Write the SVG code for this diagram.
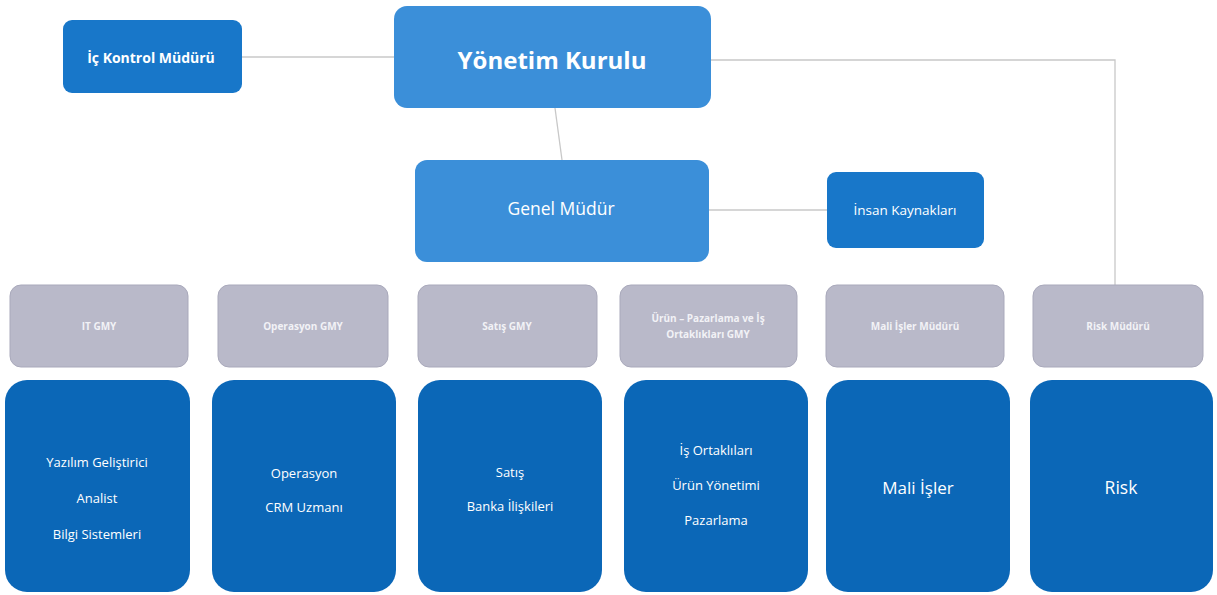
<svg xmlns="http://www.w3.org/2000/svg" width="1217" height="595" viewBox="0 0 1217 595">
<style>
.light{fill:#3b8fd9}
.mid{fill:#1877c9}
.gray{fill:#b9b9c9;stroke:#a9a9bb;stroke-width:1}
.dark{fill:#0b67b7}
text{font-family:"Open Sans","Liberation Sans",sans-serif;fill:#ffffff;text-anchor:middle;dominant-baseline:central}
.g{font-size:10px;font-weight:bold;fill:#f2f2f6}
.b{font-size:13px}
.c{stroke:#c8c8c8;stroke-width:1.3;fill:none}
</style>
<rect width="1217" height="595" fill="#ffffff"/>
<g id="connectors">
<line class="c" x1="242" y1="57" x2="394" y2="57"/>
<polyline class="c" points="711,60 1115,60 1115,285"/>
<line class="c" x1="555" y1="108" x2="562" y2="160"/>
<line class="c" x1="709" y1="210" x2="827" y2="210"/>
</g>
<g id="ic-kontrol"><rect class="mid" x="63" y="20" width="179" height="73" rx="9"/><text x="151" y="57" font-size="14" font-weight="bold">İç Kontrol Müdürü</text></g>
<g id="yonetim"><rect class="light" x="394" y="6" width="317" height="102" rx="13"/><text x="552" y="59" font-size="24" font-weight="bold">Yönetim Kurulu</text></g>
<g id="genel"><rect class="light" x="415" y="160" width="294" height="102" rx="12"/><text x="561" y="208" font-size="17.5">Genel Müdür</text></g>
<g id="insan"><rect class="mid" x="827" y="172" width="157" height="76" rx="9"/><text x="905" y="210" font-size="13.5">İnsan Kaynakları</text></g>
<g id="it-gmy"><rect class="gray" x="10" y="285" width="178" height="82" rx="11"/><text class="g" x="99" y="326">IT GMY</text></g>
<g id="op-gmy"><rect class="gray" x="218" y="285" width="170" height="82" rx="11"/><text class="g" x="303" y="326">Operasyon GMY</text></g>
<g id="satis-gmy"><rect class="gray" x="418" y="285" width="179" height="82" rx="11"/><text class="g" x="507" y="326">Satış GMY</text></g>
<g id="urun-gmy"><rect class="gray" x="620" y="285" width="177" height="82" rx="11"/><text class="g" x="708" y="318">Ürün – Pazarlama ve İş</text><text class="g" x="708" y="334">Ortaklıkları GMY</text></g>
<g id="mali-mudur"><rect class="gray" x="826" y="285" width="178" height="82" rx="11"/><text class="g" x="915" y="326">Mali İşler Müdürü</text></g>
<g id="risk-mudur"><rect class="gray" x="1033" y="285" width="170" height="82" rx="11"/><text class="g" x="1118" y="326">Risk Müdürü</text></g>
<g id="it"><rect class="dark" x="5" y="380" width="185" height="212" rx="22"/><text class="b" x="97" y="462">Yazılım Geliştirici</text><text class="b" x="97" y="498">Analist</text><text class="b" x="97" y="534">Bilgi Sistemleri</text></g>
<g id="operasyon"><rect class="dark" x="212" y="380" width="184" height="212" rx="22"/><text class="b" x="304" y="473">Operasyon</text><text class="b" x="304" y="507">CRM Uzmanı</text></g>
<g id="satis"><rect class="dark" x="418" y="380" width="184" height="212" rx="22"/><text class="b" x="510" y="472">Satış</text><text class="b" x="510" y="506">Banka İlişkileri</text></g>
<g id="urun"><rect class="dark" x="624" y="380" width="184" height="212" rx="22"/><text class="b" x="716" y="450">İş Ortaklıları</text><text class="b" x="716" y="485">Ürün Yönetimi</text><text class="b" x="716" y="520">Pazarlama</text></g>
<g id="mali"><rect class="dark" x="826" y="380" width="184" height="212" rx="22"/><text x="918" y="487" font-size="17">Mali İşler</text></g>
<g id="risk"><rect class="dark" x="1030" y="380" width="183" height="212" rx="22"/><text x="1121" y="487" font-size="17.5">Risk</text></g>
</svg>
